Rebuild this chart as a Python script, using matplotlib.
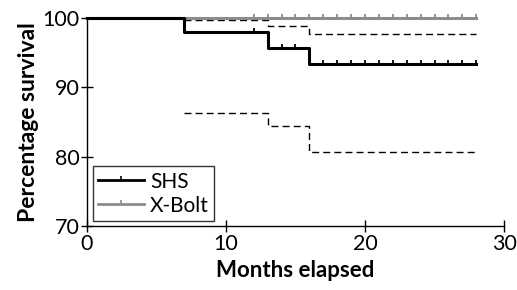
import matplotlib
matplotlib.use("Agg")
import matplotlib.pyplot as plt
from matplotlib.lines import Line2D
from matplotlib.markers import TICKUP

plt.rcParams['font.family'] = ['Lato', 'DejaVu Sans']

shs_t = [0, 7, 13, 16, 28]
shs_s = [100, 98.0, 95.7, 93.4, 93.4]
ci_t = [7, 13, 16, 28]
ci_up = [99.7, 98.9, 97.7, 97.7]
ci_lo = [86.3, 84.4, 80.7, 80.7]
shs_cens = [12, 14, 15, 17, 18, 19, 20, 21, 22, 23, 24, 25, 26, 27, 28]
xb_t = [0, 28]
xb_s = [100, 100]
xb_cens = list(range(12, 29))

fig = plt.figure(figsize=(5.17, 2.9), dpi=100)
ax = fig.add_axes([0.168, 0.221, 0.807, 0.717])

gray = '#8c8c8c'
ax.step(ci_t, ci_up, where='post', color='black', lw=1.0, ls=(0, (5, 3)), zorder=2)
ax.step(ci_t, ci_lo, where='post', color='black', lw=1.0, ls=(0, (5, 3)), zorder=2)
ax.step(xb_t, xb_s, where='post', color=gray, lw=2.2, zorder=3, clip_on=False)
ax.plot(xb_cens, [100] * len(xb_cens), ls='none', marker=TICKUP, ms=3.2, mew=1.3, color=gray, zorder=3, clip_on=False)

def surv_at(t):
    v = shs_s[0]
    for tt, ss in zip(shs_t, shs_s):
        if t >= tt:
            v = ss
    return v

ax.step(shs_t, shs_s, where='post', color='black', lw=2.2, zorder=4, clip_on=False)
ax.plot(shs_cens, [surv_at(t) for t in shs_cens], ls='none', marker=TICKUP, ms=3.2, mew=1.3, color='black', zorder=4)

ax.set_xlim(0, 30)
ax.set_ylim(70, 100)
ax.set_xticks([0, 10, 20, 30])
ax.set_yticks([70, 80, 90, 100])
for s in ['top', 'right']:
    ax.spines[s].set_visible(False)
for s in ['left', 'bottom']:
    ax.spines[s].set_linewidth(1.0)
ax.tick_params(direction='inout', length=8, width=1.0, labelsize=15.5, pad=1)
ax.tick_params(axis='x', pad=2)
ax.set_xlabel('Months elapsed', fontsize=16, fontweight='bold', labelpad=4)
ax.set_ylabel('Percentage survival', fontsize=16.5, fontweight='bold', labelpad=3)

handles = [
    Line2D([], [], color='black', lw=2.0, marker=TICKUP, ms=3, mew=1.2),
    Line2D([], [], color=gray, lw=2.0, marker=TICKUP, ms=3, mew=1.2),
]
leg = ax.legend(handles, ['SHS', 'X-Bolt'], loc='lower left', fontsize=15, frameon=True,
                fancybox=False, edgecolor='black', handlelength=2.2, handletextpad=0.3,
                borderpad=0.25, labelspacing=0.2, numpoints=1, borderaxespad=0,
                bbox_to_anchor=(0.014, 0.024))
leg.get_frame().set_linewidth(1.0)

fig.savefig('out.png', dpi=100)
